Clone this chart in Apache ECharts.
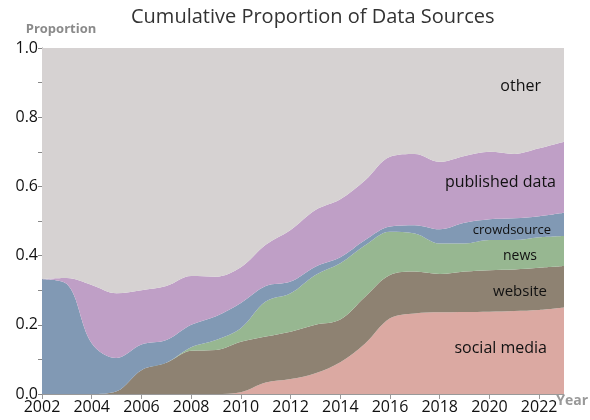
<!DOCTYPE html>
<html>
<head>
<meta charset="utf-8">
<script src="https://cdn.jsdelivr.net/npm/echarts@6/dist/echarts.min.js"></script>
<style>
  html, body { margin: 0; padding: 0; background: #fff; }
  #chart { width: 590px; height: 420px; }
</style>
</head>
<body>
<div id="chart"></div>
<script>
// 年份
const years = ['2002', '2003', '2004', '2005', '2006', '2007', '2008', '2009', '2010', '2011', '2012',
  '2013', '2014', '2015', '2016', '2017', '2018', '2019', '2020', '2021', '2022', '2023']

// 各来源占比（自下而上堆叠）
const socialMedia = [0, 0, 0, 0, 0, 0, 0, 0, 0.005, 0.033, 0.043,
  0.06, 0.092, 0.146, 0.219, 0.233, 0.236, 0.237, 0.238, 0.24, 0.243, 0.25]
const website = [0, 0, 0, 0.008, 0.069, 0.09, 0.125, 0.127, 0.146, 0.133, 0.137,
  0.14, 0.123, 0.135, 0.125, 0.121, 0.111, 0.117, 0.12, 0.12, 0.122, 0.12]
const news = [0, 0, 0, 0, 0, 0, 0.01, 0.029, 0.039, 0.101, 0.111,
  0.144, 0.163, 0.149, 0.125, 0.11, 0.088, 0.081, 0.087, 0.085, 0.088, 0.087]
const crowdsource = [0.332, 0.318, 0.147, 0.096, 0.074, 0.066, 0.065, 0.069, 0.073, 0.045, 0.034,
  0.024, 0.017, 0.015, 0.015, 0.024, 0.041, 0.06, 0.06, 0.063, 0.061, 0.067]
const publishedData = [0, 0.017, 0.168, 0.187, 0.157, 0.156, 0.141, 0.114, 0.103, 0.119, 0.149,
  0.164, 0.168, 0.173, 0.202, 0.206, 0.195, 0.193, 0.195, 0.186, 0.196, 0.205]

// other = 1 - 其余之和
const other = years.map((y, i) =>
  +(1 - socialMedia[i] - website[i] - news[i] - crowdsource[i] - publishedData[i]).toFixed(3))

const yTicks = [0, 0.2, 0.4, 0.6, 0.8, 1.0]

const seriesDefs = [
  { name: 'social media', data: socialMedia, color: '#dba9a2' },
  { name: 'website', data: website, color: '#8e8272' },
  { name: 'news', data: news, color: '#97b791' },
  { name: 'crowdsource', data: crowdsource, color: '#8199b4' },
  { name: 'published data', data: publishedData, color: '#bf9fc6' },
  { name: 'other', data: other, color: '#d6d2d2' },
]

let myChart = echarts.init(document.getElementById('chart'))

myChart.setOption({
  animation: false,
  title: {
    text: 'Cumulative Proportion of Data Sources',
    left: 126,
    top: 2,
    textStyle: {
      fontFamily: 'Open Sans',
      fontSize: 20,
      fontWeight: 'normal',
      color: '#333',
    },
  },
  grid: {
    left: 42,
    right: 26,
    top: 48,
    bottom: 26,
    outerBoundsMode: 'none',
  },
  xAxis: {
    type: 'category',
    data: years,
    boundaryGap: false,
    axisLine: { show: true, lineStyle: { color: '#999' } },
    axisTick: { show: true, length: 5, interval: 1, lineStyle: { color: '#999' } },
    splitLine: { show: false },
    axisLabel: {
      color: '#111',
      fontSize: 16,
      fontFamily: 'Open Sans',
      margin: 5,
      interval: 1,
    },
  },
  yAxis: {
    type: 'value',
    min: yTicks[0],
    max: yTicks[yTicks.length - 1],
    interval: 0.2,
    name: 'Proportion',
    nameLocation: 'end',
    nameGap: 12,
    nameTextStyle: {
      color: '#8a8a8a',
      fontWeight: 'bold',
      fontSize: 13,
      fontFamily: 'Open Sans',
      align: 'center',
      padding: [0, 0, 0, 38],
    },
    axisLine: { show: true, lineStyle: { color: '#888' } },
    axisTick: { show: true, length: 4, lineStyle: { color: '#888' } },
    minorTick: { show: true, splitNumber: 2, length: 4, lineStyle: { color: '#888' } },
    splitLine: { show: false },
    axisLabel: {
      color: '#111',
      fontSize: 16,
      fontFamily: 'Open Sans',
      margin: 4,
      formatter: (v) => v.toFixed(1),
    },
  },
  series: seriesDefs.map((s) => ({
    name: s.name,
    type: 'line',
    stack: 'total',
    smooth: 0.35,
    symbol: 'none',
    data: s.data,
    lineStyle: { width: 0 },
    itemStyle: { color: s.color },
    areaStyle: { color: s.color, opacity: 1 },
  })),
  // 区域内的文字标签 + x轴名称
  graphic: [
    { type: 'text', z: 100, right: 49, top: 78, style: { text: 'other', fontSize: 16, fontFamily: 'Open Sans', fill: '#111' } },
    { type: 'text', z: 100, right: 34, top: 174, style: { text: 'published data', fontSize: 16, fontFamily: 'Open Sans', fill: '#111' } },
    { type: 'text', z: 100, right: 39, top: 224, style: { text: 'crowdsource', fontSize: 13, fontFamily: 'Open Sans', fill: '#111' } },
    { type: 'text', z: 100, right: 53, top: 249, style: { text: 'news', fontSize: 14, fontFamily: 'Open Sans', fill: '#111' } },
    { type: 'text', z: 100, right: 43, top: 284, style: { text: 'website', fontSize: 15, fontFamily: 'Open Sans', fill: '#111' } },
    { type: 'text', z: 100, right: 43, top: 340, style: { text: 'social media', fontSize: 16, fontFamily: 'Open Sans', fill: '#111' } },
    { type: 'text', z: 100, right: 2, top: 394, style: { text: 'Year', fontSize: 14, fontWeight: 'bold', fontFamily: 'Open Sans', fill: '#999' } },
  ],
})
</script>
</body>
</html>
